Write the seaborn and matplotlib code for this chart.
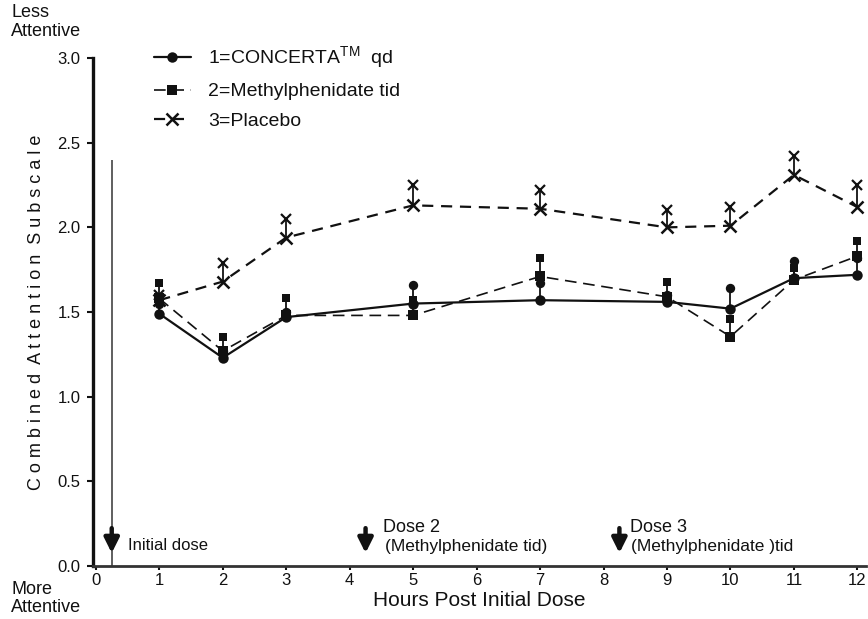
import numpy as np
import pandas as pd
import matplotlib
matplotlib.use('Agg')
import matplotlib.pyplot as plt
import seaborn as sns


HOURS = [1, 2, 3, 5, 7, 9, 10, 11, 12]

CONCERTA = [1.49, 1.23, 1.47, 1.55, 1.57, 1.56, 1.52, 1.70, 1.72]
CONCERTA_TOP = [1.55, 1.27, 1.50, 1.66, 1.67, 1.60, 1.64, 1.80, 1.82]

MPH = [1.58, 1.27, 1.48, 1.48, 1.71, 1.59, 1.355, 1.69, 1.83]
MPH_TOP = [1.67, 1.35, 1.58, 1.57, 1.82, 1.68, 1.46, 1.76, 1.92]

PLACEBO = [1.57, 1.68, 1.94, 2.13, 2.11, 2.00, 2.01, 2.31, 2.12]
PLACEBO_TOP = [1.60, 1.79, 2.05, 2.25, 2.22, 2.10, 2.12, 2.42, 2.25]

LABELS = ['1=CONCERTA$^{\\rm TM}$  qd', '2=Methylphenidate tid', '3=Placebo']
DOSE_HOURS = [0.25, 4.25, 8.25]


sns.set_style('ticks')
plt.rcParams['font.family'] = ['Liberation Sans', 'DejaVu Sans']
plt.rcParams['mathtext.fontset'] = 'custom'
plt.rcParams['mathtext.rm'] = 'Liberation Sans'

INK = '#111111'

fig = plt.figure(figsize = (8.68, 6.19), dpi = 100)
ax = fig.add_axes([0.107, 0.0856, 0.891, 0.8206])

series = [
	(CONCERTA, CONCERTA_TOP, 'o', '-', 7.5, 1.6),
	(MPH, MPH_TOP, 's', (0, (7, 4)), 6.5, 1.2),
	(PLACEBO, PLACEBO_TOP, 'x', (0, (5, 3.5)), 8, 1.6),
]

for (vals, tops, mk, ls, ms, lw), lab in zip(series, LABELS):
	df = pd.DataFrame({'hour': HOURS, 'val': vals})
	sns.lineplot(data = df, x = 'hour', y = 'val', ax = ax, color = INK,
		marker = mk, markersize = ms, markeredgewidth = 1.8 if mk == 'x' else 0,
		markeredgecolor = INK, linestyle = ls, linewidth = lw, label = lab)
	ax.vlines(HOURS, vals, tops, color = INK, linewidth = 1.3)
	ax.plot(HOURS, tops, linestyle = 'none', marker = mk, markersize = ms * 0.9,
		color = INK, markeredgewidth = 1.6 if mk == 'x' else 0)

# initial dose line
ax.vlines(DOSE_HOURS[0], 0, 2.40, color = '#444444', linewidth = 1.2)

for h in DOSE_HOURS:
	ax.annotate('', xy = (h, 0.06), xytext = (h, 0.24),
		arrowprops = dict(arrowstyle = '-|>', color = INK, lw = 3.2, mutation_scale = 22))

ax.text(0.50, 0.12, 'Initial dose', fontsize = 12, va = 'center', color = INK)
ax.text(4.52, 0.23, 'Dose 2', fontsize = 13, va = 'center', color = INK)
ax.text(4.55, 0.115, '(Methylphenidate tid)', fontsize = 12.5, va = 'center', color = INK)
ax.text(8.42, 0.23, 'Dose 3', fontsize = 13, va = 'center', color = INK)
ax.text(8.43, 0.115, '(Methylphenidate )tid', fontsize = 12.5, va = 'center', color = INK)

ax.set_xlim(-0.047, 12.14)
ax.set_ylim(0, 3.0)
ax.set_xticks(range(0, 13))
ax.set_yticks(np.arange(0, 3.01, 0.5))
ax.set_yticklabels(['%.1f' % v for v in np.arange(0, 3.01, 0.5)])
ax.tick_params(axis = 'both', labelsize = 12, colors = INK, width = 1.5)
ax.tick_params(axis = 'y', length = 4, pad = 5)
ax.tick_params(axis = 'x', length = 3, pad = 2)

for s in ['top', 'right']:
	ax.spines[s].set_visible(False)
ax.spines['left'].set_linewidth(2.4)
ax.spines['bottom'].set_linewidth(2.0)
ax.spines['left'].set_color(INK)
ax.spines['bottom'].set_color('#333333')

ax.set_xlabel('Hours Post Initial Dose', fontsize = 15, color = INK, labelpad = 2)
ax.set_ylabel('  '.join(' '.join(w) for w in 'Combined Attention Subscale'.split()),
	fontsize = 13, color = INK, labelpad = 9)

leg = ax.legend(loc = 'upper left', bbox_to_anchor = (0.056, 1.061), frameon = False,
	fontsize = 14, handlelength = 1.9, handletextpad = 0.9, labelspacing = 0.6)
for t in leg.get_texts():
	t.set_color(INK)

fig.text(0.013, 1 - 4 / 619, 'Less\nAttentive', fontsize = 13, va = 'top', color = INK, linespacing = 1.15)
fig.text(0.013, 1 - 581 / 619, 'More\nAttentive', fontsize = 13, va = 'top', color = INK, linespacing = 1.1)

fig.savefig('out.png', dpi = 100)
plt.close()
